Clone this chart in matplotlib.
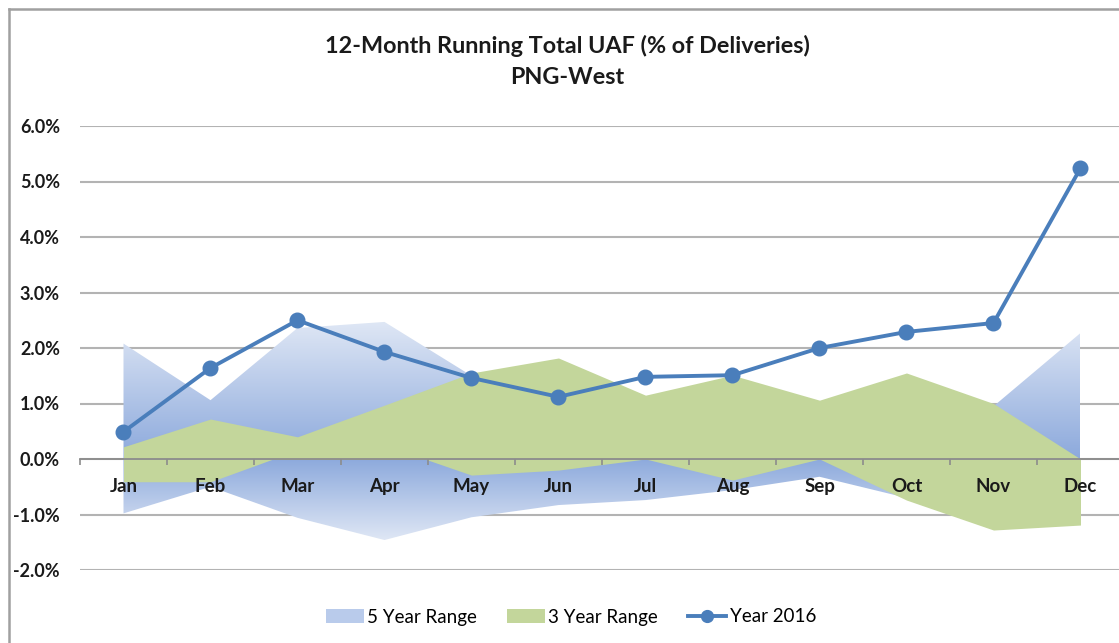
import numpy as np
import matplotlib
matplotlib.use("Agg")
import matplotlib.pyplot as plt
from matplotlib.patches import Patch, PathPatch
from matplotlib.lines import Line2D
from matplotlib.colors import to_rgb

plt.rcParams['font.family'] = ['Lato', 'DejaVu Sans']

months = ['Jan', 'Feb', 'Mar', 'Apr', 'May', 'Jun',
          'Jul', 'Aug', 'Sep', 'Oct', 'Nov', 'Dec']

five_yr_max = [2.08, 1.06, 2.36, 2.47, 1.50, 1.20, 1.00, 0.90, 0.80, 0.90, 0.95, 2.27]
five_yr_min = [-0.98, -0.50, -1.06, -1.46, -1.05, -0.83, -0.74, -0.56, -0.32, -0.70, -0.90, -0.80]
three_yr_max = [0.22, 0.72, 0.40, 0.97, 1.55, 1.82, 1.15, 1.51, 1.06, 1.55, 1.00, 0.00]
three_yr_min = [-0.41, -0.41, 0.16, 0.25, -0.29, -0.20, 0.00, -0.38, 0.00, -0.74, -1.28, -1.19]
year_2016 = [0.49, 1.64, 2.50, 1.93, 1.46, 1.12, 1.48, 1.51, 2.00, 2.29, 2.45, 5.24]

y_ticks = [-2, -1, 0, 1, 2, 3, 4, 5, 6]

blue_far = '#dfe7f5'
blue_near = '#8ca9dc'
green = '#c3d69b'
line_blue = '#4a7ebb'
text_col = '#1a1a1a'

W, H = 1119, 643
fig = plt.figure(figsize=(W / 100, H / 100), dpi=100)

# plot area in pixels: left 80, right 1124 (past the edge), top 126, bottom 570
ax = fig.add_axes([80 / W, (H - 570) / H, (1124 - 80) / W, (570 - 126) / H])
x = np.arange(len(months))


def gradient_area(vals, z):
    # area from 0 to vals, filled with a gradient that fades away from zero
    poly = ax.fill_between(x, 0, vals, color='none', lw=0)
    path = poly.get_paths()[0]
    clip = PathPatch(path, facecolor='none', edgecolor='none', transform=ax.transData)
    ax.add_patch(clip)
    ext = max(abs(v) for v in vals)
    t = np.linspace(0, 1, 256)[:, None]
    c0, c1 = np.array(to_rgb(blue_near)), np.array(to_rgb(blue_far))
    grad = c0 + (c1 - c0) * t[..., None]
    grad = np.repeat(grad, 2, axis=1)
    if vals[np.argmax(np.abs(vals))] >= 0:
        extent = [x[0], x[-1], 0, ext]
        origin = 'lower'
    else:
        extent = [x[0], x[-1], -ext, 0]
        origin = 'upper'
    img = ax.imshow(grad, extent=extent, origin=origin, aspect='auto',
                    zorder=z, interpolation='bilinear')
    img.set_clip_path(clip)


for yv in y_ticks:
    ax.axhline(yv, color='#b3b3b3', lw=1.5, zorder=0)

gradient_area(np.array(five_yr_max), 1)
gradient_area(np.array(five_yr_min), 1)
ax.fill_between(x, 0, three_yr_max, color=green, lw=0, zorder=2)
ax.fill_between(x, 0, three_yr_min, color=green, lw=0, zorder=2)

ax.plot(x, year_2016, color=line_blue, lw=2.8, marker='o', ms=10.5, zorder=6)

ax.set_xlim(-0.5, 11.5)
ax.set_ylim(-2, 6)

for s in ['left', 'right', 'top']:
    ax.spines[s].set_visible(False)
ax.spines['bottom'].set_position(('data', 0))
ax.spines['bottom'].set_color('#8c8c8c')
ax.spines['bottom'].set_linewidth(1.3)
ax.spines['bottom'].set_zorder(4)
ax.xaxis.set_zorder(5)

ax.set_xticks(x)
ax.set_xticklabels(months, fontsize=13.5, fontweight='bold', color=text_col)
ax.set_xticks(np.arange(-0.5, 12, 1), minor=True)
ax.tick_params(axis='x', which='major', length=0, pad=14)
ax.tick_params(axis='x', which='minor', length=4, width=1.2, color='#8c8c8c')

ax.set_yticks(y_ticks)
ax.set_yticklabels([f'{v:.1f}%' for v in y_ticks], fontsize=13,
                   fontweight='bold', color=text_col)
ax.tick_params(axis='y', length=0, pad=14.4)

fig.text(567 / W, 1 - 46 / H, '12-Month Running Total UAF (% of Deliveries)',
         ha='center', va='center', fontsize=16.8, fontweight='bold', color=text_col)
fig.text(567 / W, 1 - 78 / H, 'PNG-West',
         ha='center', va='center', fontsize=16.8, fontweight='bold', color=text_col)

handles = [Patch(facecolor='#b9cbeb', edgecolor='none'),
           Patch(facecolor=green, edgecolor='none'),
           Line2D([], [], color=line_blue, lw=2.8, marker='o', ms=8.5)]
fig.legend(handles, ['5 Year Range', '3 Year Range', 'Year 2016'],
           loc='center', bbox_to_anchor=(571 / W, 1 - 617 / H), ncol=3,
           frameon=False, fontsize=13.5, handlelength=2.0, handleheight=0.75,
           handletextpad=0.2, columnspacing=1.6)

# outer chart border (right and bottom edges are cut off in the picture)
fig.add_artist(Line2D([9 / W, 9 / W], [0, 1 - 9 / H], color='#a0a0a0', lw=1.8))
fig.add_artist(Line2D([9 / W, 1], [1 - 9 / H, 1 - 9 / H], color='#a0a0a0', lw=1.8))

fig.savefig('out.png', dpi=100)
